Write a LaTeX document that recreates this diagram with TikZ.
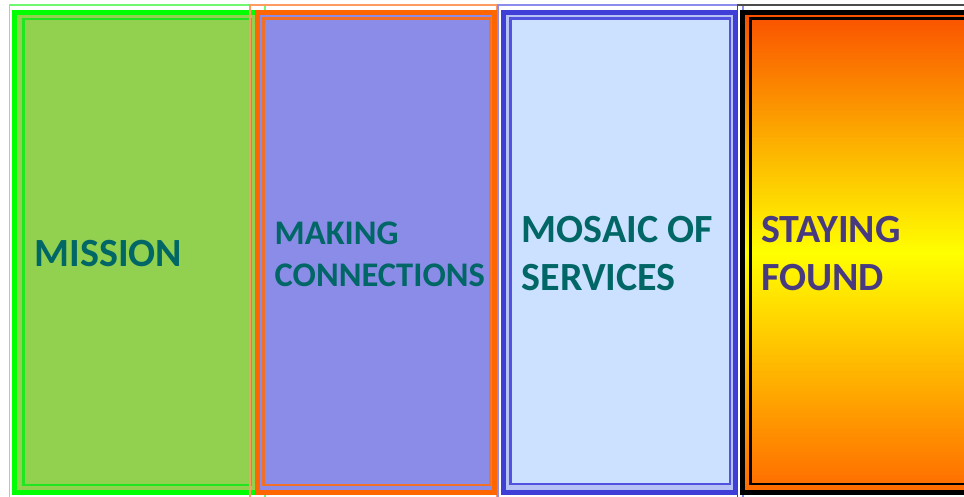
\documentclass[tikz,border=0pt]{standalone}
\usepackage{fontspec}
\setmainfont{Carlito}
\definecolor{gfill}{HTML}{92D050}
\definecolor{gline}{HTML}{00FF00}
\definecolor{gthin}{HTML}{70F870}
\definecolor{ginner}{HTML}{20E620}
\definecolor{pfill}{HTML}{8B8BE8}
\definecolor{oline}{HTML}{FF6600}
\definecolor{othin}{HTML}{FF9A60}
\definecolor{oinner}{HTML}{F07028}
\definecolor{bfill}{HTML}{CCE0FF}
\definecolor{bband}{HTML}{B6C2F4}
\definecolor{bline}{HTML}{3F3FD8}
\definecolor{bthin}{HTML}{8C8CEC}
\definecolor{binner}{HTML}{5252E0}
\definecolor{gtop}{HTML}{FA5000}
\definecolor{gmid}{HTML}{FFFF00}
\definecolor{gbot}{HTML}{FF6A00}
\definecolor{teal}{HTML}{006666}
\definecolor{plum}{HTML}{483A80}
\tikzset{
  thinframe/.style={line width=1.6pt},
  thickframe/.style={line width=5pt},
  innerframe/.style={line width=2.6pt},
  lbl/.style={inner sep=0pt, anchor=west, align=left, font=\bfseries},
}
\begin{document}
\begin{tikzpicture}[x=1pt,y=-1pt]
\useasboundingbox (0,0) rectangle (964,496);
\fill[white] (0,0) rectangle (964,496);
% panel 1
\draw[thinframe, gthin] (9.5,4.8) rectangle (265,500);
\draw[thickframe, gline, fill=gfill] (14.5,12) rectangle (260.5,492.5);
\draw[innerframe, ginner] (23.5,19) rectangle (251,485);
% panel 2
\draw[thinframe, othin] (249.8,4.8) rectangle (497,500);
\draw[thickframe, oline, fill=pfill] (257,12.5) rectangle (494,492.5);
\draw[innerframe, oinner] (263.5,18.5) rectangle (490,485);
% panel 3
\draw[thinframe, bthin] (497.8,4.8) rectangle (743,500);
\draw[thickframe, bline, fill=bband] (503,12.5) rectangle (735,492.5);
\draw[innerframe, binner, fill=bfill] (510.5,18.5) rectangle (730,484);
% panel 4
\draw[thinframe, black!70] (737.5,4.8) rectangle (1000,500);
\shade[top color=gtop, bottom color=gbot, middle color=gmid] (742.5,12.5) rectangle (990,492.5);
\draw[thickframe, black] (742.5,12.5) rectangle (990,492.5);
\draw[innerframe, black] (750.5,18.5) rectangle (980,484);
% labels
\node[lbl, text=teal, font=\bfseries\fontsize{40}{46}\selectfont] (mission) at (34.5,253.3) {MISSION};
\node[lbl, text=teal, font=\bfseries\fontsize{34.5}{42}\selectfont] (making) at (274.5,253.9) {MAKING\\CONNECTIONS};
\node[lbl, text=teal, font=\bfseries\fontsize{40}{48.3}\selectfont] (mosaic) at (521.5,253.3) {MOSAIC OF\\SERVICES};
\node[lbl, text=plum, font=\bfseries\fontsize{40}{48.3}\selectfont] (staying) at (761,253.3) {STAYING\\FOUND};
\end{tikzpicture}
\end{document}
